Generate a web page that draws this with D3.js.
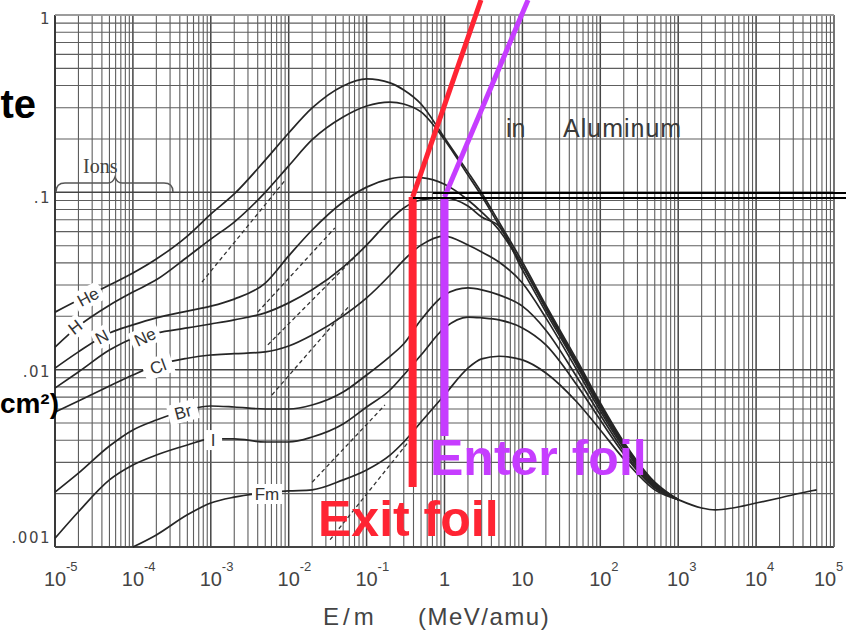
<!DOCTYPE html>
<html><head><meta charset="utf-8">
<script src="https://cdn.jsdelivr.net/npm/d3@7"></script>
<style>body{margin:0;background:#fff;}svg{display:block;}</style>
</head><body>
<svg id="chart" width="846" height="631"></svg>
<script>
// ---------- DATA ----------
const energies = [1e-5,2e-5,5e-5,1e-4,2e-4,5e-4,1e-3,2e-3,5e-3,0.01,0.02,0.05,0.1,0.2,0.3,0.5,1,2,3,5,10,20,50,100,200,500,1000];
const energiesFm = [1e-4,2e-4,5e-4,1e-3,2e-3,5e-3,0.01,0.02,0.05,0.1,0.2,0.3,0.5,1,2,3,5,10,20,50,100,200,500,1000];
const sHe = [0.0211,0.0247,0.0300,0.0351,0.0421,0.0567,0.0754,0.0979,0.152,0.216,0.299,0.398,0.436,0.414,0.378,0.315,0.203,0.130,0.0992,0.0680,0.0405,0.0231,0.01135,0.00649,0.00391,0.00232,0.00185];
const sH  = [0.0134,0.0176,0.0231,0.0274,0.0321,0.0432,0.0545,0.0680,0.100,0.141,0.198,0.266,0.307,0.323,0.315,0.284,0.198,0.125,0.0953,0.0654,0.0389,0.0225,0.0110,0.00632,0.00386,0.00229,0.00185];
const sN  = [0.0102,0.0126,0.0161,0.0179,0.0196,0.0214,0.0228,0.0250,0.0308,0.0438,0.0613,0.0882,0.107,0.119,0.122,0.121,0.111,0.0905,0.0774,0.0613,0.0384,0.0220,0.0107,0.00624,0.00381,0.00226,0.00185];
const sNe = [0.00788,0.00970,0.0129,0.0150,0.0161,0.0172,0.0181,0.0191,0.0209,0.0238,0.0282,0.0379,0.0504,0.0698,0.0816,0.0905,0.0929,0.0837,0.0726,0.0645,0.0365,0.0211,0.0105,0.00608,0.00371,0.00224,0.00185];
const sCl = [0.00577,0.00666,0.00809,0.00933,0.0106,0.0116,0.0121,0.0123,0.0126,0.0136,0.0157,0.0201,0.0254,0.0342,0.0415,0.0504,0.0567,0.0504,0.0461,0.0405,0.0308,0.0196,0.00996,0.00585,0.00362,0.00221,0.00185];
const sBr = [0.00204,0.00261,0.00371,0.00457,0.00520,0.00592,0.00624,0.00616,0.00600,0.00600,0.00632,0.00748,0.00933,0.0119,0.0140,0.0191,0.0264,0.0289,0.0282,0.0264,0.0228,0.0167,0.00909,0.00555,0.00348,0.00218,0.00185];
const sI  = [0.00112,0.00158,0.00239,0.00290,0.00330,0.00376,0.00407,0.00407,0.00391,0.00391,0.00417,0.00494,0.00616,0.00768,0.00933,0.0121,0.0172,0.0198,0.0196,0.0191,0.0172,0.0138,0.00820,0.00520,0.00335,0.00215,0.00185];
const sFm = [0.00100,0.00117,0.00152,0.00177,0.00191,0.00202,0.00207,0.00210,0.00239,0.00272,0.00330,0.00391,0.00507,0.00720,0.0102,0.0115,0.0119,0.01135,0.00958,0.00657,0.00457,0.00314,0.00210,0.00185];
const tailE = [1000,2000,3000,5000,10000,20000,50000,60000];
const tailS = [0.00185,0.00166,0.00162,0.00166,0.00177,0.00189,0.00207,0.00210];
const dashedGuides = [
  [[7.7e-4,0.0312],[9.0e-3,0.117]],
  [[4.0e-3,0.0211],[0.039,0.0629]],
  [[5.4e-3,0.0138],[0.087,0.0473]],
  [[6.1e-3,0.0072],[0.06,0.0229]],
  [[0.020,0.00232],[0.172,0.00632]],
  [[0.034,0.00110],[0.36,0.00401]]
];
const ionNames = ["He","H","N","Ne","Cl","Br","I","Fm"];
const labelE = [2.65e-5,1.81e-5,4.0e-5,1.43e-4,2.1e-4,4.4e-4,1.07e-3,5.26e-3];
const labelS = [0.0257,0.0174,0.0153,0.0153,0.0104,0.00577,0.00401,0.00199];
const labelAngle = [-28,-38,-28,-25,-20,-15,0,0];
const xTickExps = [-5,-4,-3,-2,-1,0,1,2,3,4,5];
const yTickVals = [1,0.1,0.01,0.001];
const yTickText = ["1",".1",".01",".001"];
// foil annotation (E/m in MeV/amu, value on y axis)
const exitE = 0.39, enterE = 1.0, foilTopS = 0.094;
const exitBottomS = 0.00218, enterBottomS = 0.00423;
const exitDiagTop = [2.94,1.215], enterDiagTop = [11.8,1.215];
const blackLineS = [0.0992,0.0929], blackLineStartE = [0.71,0.394];

// ---------- SCALES ----------
const W = 846, Hh = 631;
const svg = d3.select('#chart');
const x = d3.scaleLog().domain([1e-5,1e5]).range([55,834]);
const y = d3.scaleLog().domain([1e-3,1]).range([547,15]);
const isDecade = d => Math.abs(Math.log10(d) - Math.round(Math.log10(d))) < 1e-6;

// ---------- GRID ----------
const grid = svg.append('g');
grid.selectAll('line.v').data(x.ticks(20)).join('line')
  .attr('x1',d=>x(d)).attr('x2',d=>x(d)).attr('y1',y(1)).attr('y2',y(1e-3))
  .attr('stroke',d=>isDecade(d)?'#444':'#5e5e5e').attr('stroke-width',d=>isDecade(d)?1.5:1.1);
grid.selectAll('line.h').data(y.ticks(20)).join('line')
  .attr('y1',d=>y(d)).attr('y2',d=>y(d)).attr('x1',x(1e-5)).attr('x2',x(1e5))
  .attr('stroke',d=>isDecade(d)?'#444':'#5e5e5e').attr('stroke-width',d=>isDecade(d)?1.5:1.1);
// frame
svg.append('line').attr('x1',x(1e-5)).attr('x2',x(1e-5)).attr('y1',y(1)).attr('y2',y(1e-3)).attr('stroke','#333').attr('stroke-width',1.8);
svg.append('line').attr('x1',x(1e-5)).attr('x2',x(1e5)).attr('y1',y(1e-3)).attr('y2',y(1e-3)).attr('stroke','#444').attr('stroke-width',1.8);
svg.append('line').attr('x1',x(1e5)).attr('x2',x(1e5)).attr('y1',y(1)).attr('y2',y(1e-3)).attr('stroke','#777').attr('stroke-width',1.4);
svg.append('line').attr('x1',x(1e-5)).attr('x2',x(1e5)).attr('y1',y(1)).attr('y2',y(1)).attr('stroke','#aaa').attr('stroke-width',1.4);

// ---------- CURVES ----------
const line = d3.line().x(d=>x(d[0])).y(d=>y(d[1])).curve(d3.curveMonotoneX);
const series = [sHe,sH,sN,sNe,sCl,sBr,sI].map(s=>energies.map((e,i)=>[e,s[i]]));
series.push(energiesFm.map((e,i)=>[e,sFm[i]]));
const cg = svg.append('g');
cg.selectAll('path.c').data(series).join('path').attr('d',line)
  .attr('fill','none').attr('stroke','#262626').attr('stroke-width',1.7);
cg.append('path').attr('d',line(tailE.map((e,i)=>[e,tailS[i]])))
  .attr('fill','none').attr('stroke','#262626').attr('stroke-width',1.7);
cg.selectAll('path.d').data(dashedGuides).join('path').attr('d',d3.line().x(d=>x(d[0])).y(d=>y(d[1])))
  .attr('fill','none').attr('stroke','#333').attr('stroke-width',1.3).attr('stroke-dasharray','4,3');

// curve labels
const lg = svg.append('g').selectAll('g').data(ionNames).join('g')
  .attr('transform',(d,i)=>`translate(${x(labelE[i])},${y(labelS[i])}) rotate(${labelAngle[i]})`);
lg.append('rect').attr('x',d=>-(d.length*6+3)).attr('y',-10).attr('width',d=>d.length*12+6).attr('height',20).attr('fill','#fff');
lg.append('text').text(d=>d).attr('text-anchor','middle').attr('dy','0.35em')
  .attr('font-family','Liberation Sans, Arial, sans-serif').attr('font-size',17).attr('fill','#333');

// ---------- AXIS LABELS ----------
const tf = 'Liberation Sans, Arial, sans-serif';
const xShift = d => d===5 ? -9 : 0;
const xl = svg.append('g').selectAll('g').data(xTickExps).join('g');
xl.append('text').attr('x',d=>x(Math.pow(10,d))+xShift(d)).attr('y',586).attr('text-anchor','middle')
  .attr('font-family',tf).attr('font-size',20).attr('fill','#444')
  .text(d=>d===0?'1':'10');
xl.filter(d=>d!==0 && d!==1).append('text').attr('x',d=>x(Math.pow(10,d))+xShift(d)+11).attr('y',571)
  .attr('font-family',tf).attr('font-size',13).attr('fill','#444').text(d=>String(d));
svg.append('g').selectAll('text').data(yTickVals).join('text')
  .attr('x',51).attr('y',(d,i)=>y(d)+[9,11,7,-4][i]).attr('text-anchor','end')
  .attr('font-family','DejaVu Sans, sans-serif').attr('font-size',15).attr('letter-spacing',1.5).attr('fill','#444')
  .text((d,i)=>yTickText[i]);
svg.append('text').attr('x',323).attr('y',625).attr('font-family',tf).attr('font-size',24).attr('letter-spacing',4).attr('fill','#444').text('E/m');
svg.append('text').attr('x',418).attr('y',625).attr('font-family',tf).attr('font-size',24).attr('letter-spacing',1.5).attr('fill','#444').text('(MeV/amu)');

// in Aluminum
svg.append('text').attr('x',506).attr('y',137).attr('font-family',tf).attr('font-size',25).attr('fill','#3a3a3a').text('in');
svg.append('text').attr('x',563).attr('y',137).attr('font-family',tf).attr('font-size',25).attr('letter-spacing',1).attr('fill','#3a3a3a').text('Aluminum');
// Ions + brace
svg.append('text').attr('x',83).attr('y',173).attr('font-family','Liberation Serif, serif').attr('font-size',20).attr('fill','#444').text('Ions');
svg.append('path').attr('d','M56,192 Q56,183 65,183 L108,183 Q113,183 115,177 Q117,183 122,183 L164,183 Q173,183 173,192')
  .attr('fill','none').attr('stroke','#555').attr('stroke-width',1.4);

// ---------- OVERLAY ANNOTATIONS ----------
const red = '#ff2433', purple = '#c63dff';
svg.append('line').attr('x1',x(exitE)).attr('x2',x(exitDiagTop[0])).attr('y1',y(foilTopS)).attr('y2',y(exitDiagTop[1])).attr('stroke',red).attr('stroke-width',5);
svg.append('line').attr('x1',x(enterE)).attr('x2',x(enterDiagTop[0])).attr('y1',y(foilTopS)).attr('y2',y(enterDiagTop[1])).attr('stroke',purple).attr('stroke-width',5);
svg.append('line').attr('x1',x(exitE)).attr('x2',x(exitE)).attr('y1',y(foilTopS)).attr('y2',y(exitBottomS)).attr('stroke',red).attr('stroke-width',8);
svg.append('line').attr('x1',x(enterE)).attr('x2',x(enterE)).attr('y1',y(foilTopS)).attr('y2',y(enterBottomS)).attr('stroke',purple).attr('stroke-width',8);
blackLineS.forEach((s,i)=>{
  svg.append('line').attr('x1',x(blackLineStartE[i])).attr('x2',W).attr('y1',y(s)).attr('y2',y(s)).attr('stroke','#000').attr('stroke-width',2);
});
svg.append('text').attr('x',430).attr('y',475).attr('font-family',tf).attr('font-weight','bold').attr('font-size',50).attr('fill',purple).text('Enter foil');
svg.append('text').attr('x',318).attr('y',536).attr('font-family',tf).attr('font-weight','bold').attr('font-size',50).attr('fill',red).text('Exit foil');

// slide text fragments
svg.append('text').attr('x',36).attr('y',118).attr('text-anchor','end').attr('font-family',tf).attr('font-weight','bold').attr('font-size',40).attr('fill','#000').text('te');
svg.append('text').attr('x',59).attr('y',413).attr('text-anchor','end').attr('font-family',tf).attr('font-weight','bold').attr('font-size',28).attr('fill','#000').text('cm²)');
</script>
</body></html>
